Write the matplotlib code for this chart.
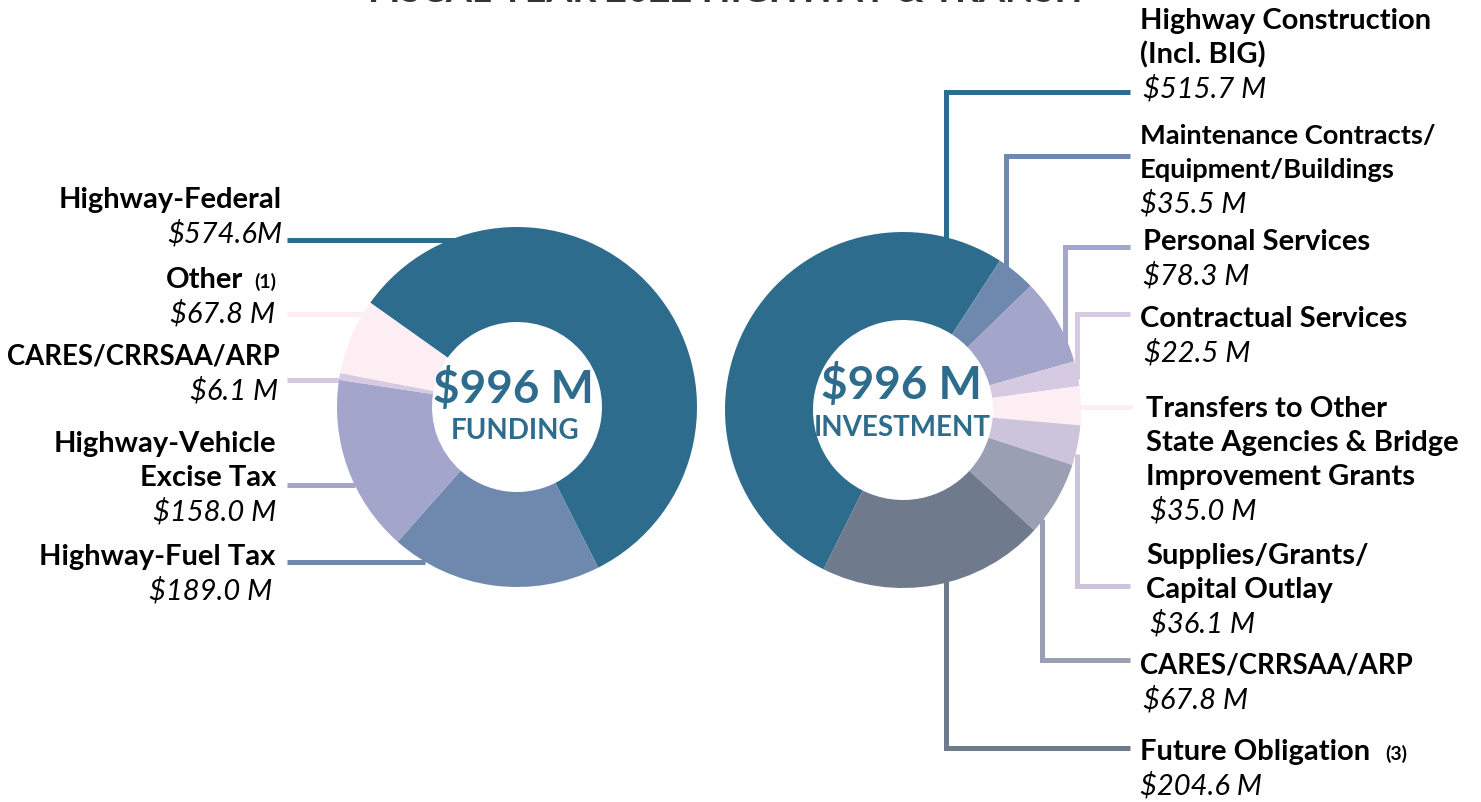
import matplotlib.pyplot as plt

W, H = 1481, 803

# Funding side (clockwise from upper left)
funding_names = ["Highway-Federal", "Highway-Fuel Tax", "Highway-Vehicle\nExcise Tax",
                 "CARES/CRRSAA/ARP", "Other"]
funding_values = [574.6, 189.0, 158.0, 6.1, 67.8]
funding_value_text = ["$574.6M", "$189.0 M", "$158.0 M", "$6.1 M", "$67.8 M"]
funding_colors = ["#2E6C8D", "#6F89AE", "#A3A5CB", "#D6CAE2", "#FDEEF4"]

# Investment side (clockwise from lower left)
invest_names = ["Highway Construction\n(Incl. BIG)", "Maintenance Contracts/\nEquipment/Buildings",
                "Personal Services", "Contractual Services",
                "Transfers to Other\nState Agencies & Bridge\nImprovement Grants",
                "Supplies/Grants/\nCapital Outlay", "CARES/CRRSAA/ARP", "Future Obligation"]
invest_values = [515.7, 35.5, 78.3, 22.5, 35.0, 36.1, 67.8, 204.6]
invest_value_text = ["$515.7 M", "$35.5 M", "$78.3 M", "$22.5 M", "$35.0 M",
                     "$36.1 M", "$67.8 M", "$204.6 M"]
invest_colors = ["#2E6C8D", "#6F89AE", "#A3A5CB", "#D6CAE2", "#FDEEF4",
                 "#CCC4DA", "#9A9FB4", "#6F7B8C"]

total_text = "$996 M"
title = "FISCAL YEAR 2022 HIGHWAY & TRANSIT"

plt.rcParams['font.family'] = ['Lato', 'DejaVu Sans']
BLUE = "#2E6C8D"
LBL = 21
VAL = 21
PITCH = 34


def py(y):
    # picture rows run downwards, the axes upwards
    return H - y


def label_block(x, y, name, value, ha, value_dx=0, size=LBL):
    lines = name.split("\n")
    for k, line in enumerate(lines):
        ax.text(x, py(y + PITCH * k), line, ha=ha, va='center', fontsize=size,
                fontweight='bold', color='black')
    ax.text(x + value_dx, py(y + PITCH * len(lines)), value, ha=ha, va='center',
            fontsize=VAL, style='italic', color='black')


fig = plt.figure(figsize=(W / 100, H / 100), dpi=100)
ax = fig.add_axes([0, 0, 1, 1])

ax.pie(funding_values, colors=funding_colors, startangle=144.6, counterclock=False,
       center=(517, py(408)), radius=180, wedgeprops=dict(width=95, linewidth=0))
ax.pie(invest_values, colors=invest_colors, startangle=243.5, counterclock=False,
       center=(903, py(411)), radius=178, wedgeprops=dict(width=88, linewidth=0))
ax.set_xlim(0, W)
ax.set_ylim(0, H)
ax.axis('off')

# centre captions
ax.text(513, py(389), total_text, ha='center', va='center', fontsize=33,
        fontweight='bold', color=BLUE)
ax.text(515, py(431), "FUNDING", ha='center', va='center', fontsize=20,
        fontweight='bold', color=BLUE)
ax.text(901, py(385), total_text, ha='center', va='center', fontsize=33,
        fontweight='bold', color=BLUE)
ax.text(902, py(428), "INVESTMENT", ha='center', va='center', fontsize=20,
        fontweight='bold', color=BLUE)

# title sits mostly above the top edge, as in the source image
ax.text(728, py(2), title, ha='center', va='baseline', fontsize=27, fontweight='bold',
        color='#333333')

LW = 3.6

# left leader lines (behind the ring)
left_lines = [(241, 470), (563, 425), (486, 355), (381, 343), (315, 372)]
for (y, x1), c in zip(left_lines, funding_colors):
    ax.plot([287, x1], [py(y), py(y)], color=c, lw=LW, zorder=0.5, solid_capstyle='butt')

# left labels
label_block(282, 200, funding_names[0], funding_value_text[0], 'right')
label_block(243, 280, funding_names[4], funding_value_text[4], 'right', value_dx=32)
ax.text(276, py(282), "(1)", ha='right', va='center', fontsize=14, fontweight='bold')
label_block(280, 357, funding_names[3], funding_value_text[3], 'right', value_dx=-2, size=19.8)
label_block(276, 444, funding_names[2], funding_value_text[2], 'right')
label_block(275, 557, funding_names[1], funding_value_text[1], 'right', value_dx=-3)

# right elbow leader lines: (x of riser, y at ring, y of label arm)
elbows = [(946, 245, 93), (1006, 272, 157), (1065, 345, 248), (1077, 380, 315),
          None, (1077, 455, 587), (1042, 520, 661), (946, 580, 749)]
for e, c in zip(elbows, invest_colors):
    if e is None:
        continue
    x, y0, y1 = e
    ax.plot([x, x, 1130], [py(y0), py(y1), py(y1)], color=c, lw=LW, zorder=0.5,
            solid_joinstyle='miter', solid_capstyle='butt')
ax.plot([1070, 1130], [py(408), py(408)], color=invest_colors[4], lw=LW, zorder=0.5)

# right labels: (x, y of first line, value offset, font size)
right_pos = [(1140, 21, 3, 21), (1140, 136, 0, 19.6), (1143, 242, 0, 21), (1140, 319, 4, 21),
             (1146, 409, 4, 21), (1146, 556, 4, 21), (1140, 666, 3, 19.8), (1140, 752, 0, 21)]
for i, (x, y, dx, sz) in enumerate(right_pos):
    label_block(x, y, invest_names[i], invest_value_text[i], 'left', value_dx=dx, size=sz)
ax.text(1385, py(754), "(3)", ha='left', va='center', fontsize=14, fontweight='bold')

fig.savefig("out.png", dpi=100)
